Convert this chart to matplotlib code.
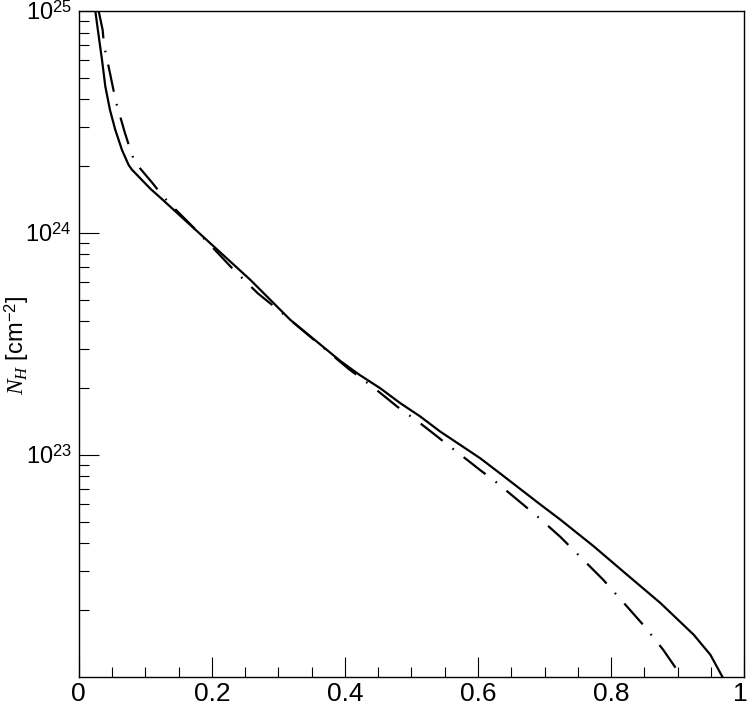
import matplotlib
matplotlib.use("Agg")
import matplotlib.pyplot as plt
import matplotlib.transforms as mtransforms
import numpy as np
from matplotlib.ticker import FixedLocator, MultipleLocator, NullFormatter

plt.rcParams['font.family'] = ['Liberation Sans', 'DejaVu Sans']
plt.rcParams['mathtext.fontset'] = 'custom'
plt.rcParams['mathtext.rm'] = 'Liberation Sans'
plt.rcParams['mathtext.it'] = 'Liberation Serif:italic'
plt.rcParams['lines.scale_dashes'] = False

# Solid curve (x, log10 N_H)
solid_x = [0.025, 0.029, 0.035, 0.040, 0.047, 0.055, 0.065, 0.075, 0.080, 0.108,
           0.123, 0.200, 0.258, 0.318, 0.393, 0.422, 0.453, 0.483, 0.513, 0.543,
           0.573, 0.603, 0.634, 0.694, 0.724, 0.774, 0.824, 0.874, 0.924, 0.949,
           0.967]
solid_log = [25.0, 24.91, 24.78, 24.66, 24.554, 24.464, 24.374, 24.306, 24.285, 24.198,
             24.158, 23.947, 23.788, 23.608, 23.423, 23.36, 23.30, 23.233, 23.173, 23.105,
             23.045, 22.985, 22.914, 22.775, 22.707, 22.587, 22.459, 22.332, 22.189, 22.099,
             22.0]

# Dash-dot curve (x, log10 N_H)
dd_x = [0.030, 0.036, 0.038, 0.047, 0.052, 0.057, 0.069, 0.076, 0.084, 0.111,
        0.126, 0.142, 0.172, 0.206, 0.233, 0.269, 0.301, 0.406, 0.441, 0.479,
        0.514, 0.532, 0.551, 0.585, 0.604, 0.623, 0.656, 0.674, 0.692, 0.724,
        0.758, 0.788, 0.820, 0.848, 0.878, 0.906]
dd_log = [25.0, 24.914, 24.847, 24.72, 24.647, 24.58, 24.455, 24.389, 24.32, 24.224,
          24.167, 24.116, 24.026, 23.919, 23.833, 23.728, 23.65, 23.386, 23.308, 23.216,
          23.14, 23.098, 23.053, 22.974, 22.929, 22.887, 22.805, 22.760, 22.715, 22.629,
          22.527, 22.437, 22.329, 22.234, 22.122, 22.0]

x_ticks = [0, 0.2, 0.4, 0.6, 0.8, 1.0]
x_ticklabels = ["0", "0.2", "0.4", "0.6", "0.8", "1"]
y_ticks = [1e23, 1e24, 1e25]
y_ticklabels = [r"$10^{23}$", r"$10^{24}$", r"$10^{25}$"]

fig = plt.figure(figsize=(7.47, 7.06), dpi=100)
ax = fig.add_axes([78.7/747, 1-676.7/706, (744.3-78.7)/747, (676.7-11)/706])

ax.plot(solid_x, 10.0**np.array(solid_log), color='black', lw=1.6, solid_joinstyle='round')
ax.plot(dd_x, 10.0**np.array(dd_log), color='black', lw=1.6,
        linestyle=(0, (20, 9, 1.2, 9)))

ax.set_yscale('log')
ax.set_xlim(0, 1)
ax.set_ylim(1e22, 1e25)

ax.set_xticks(x_ticks)
ax.set_xticklabels(x_ticklabels)
ax.xaxis.set_minor_locator(MultipleLocator(0.05))
ax.yaxis.set_major_locator(FixedLocator(y_ticks))
ax.set_yticklabels(y_ticklabels)
minor_y = [float(m) * 10.0**e for e in (22, 23, 24) for m in range(2, 10)]
ax.yaxis.set_minor_locator(FixedLocator(minor_y))
ax.yaxis.set_minor_formatter(NullFormatter())

ax.tick_params(which='both', direction='in', top=False, right=False, width=0.8, color='black')
ax.tick_params(which='major', length=14.4)
ax.tick_params(which='minor', length=7.2)
ax.tick_params(axis='x', which='major', labelsize=19, pad=4)
ax.tick_params(axis='y', which='major', labelsize=17, pad=5)

# nudge the last x label ("1") slightly left so it stays inside the image
last = ax.get_xticklabels()[-1]
last.set_transform(last.get_transform() +
                   mtransforms.ScaledTranslation(-4/100, 0, fig.dpi_scale_trans))

for s in ax.spines.values():
    s.set_linewidth(1.0)

fig.text(17/747, 1-345/706, r"$N_H$ [cm$^{\mathrm{-2}}$]", rotation=90,
         ha='center', va='center', fontsize=17)

fig.savefig("out.png", dpi=100)
